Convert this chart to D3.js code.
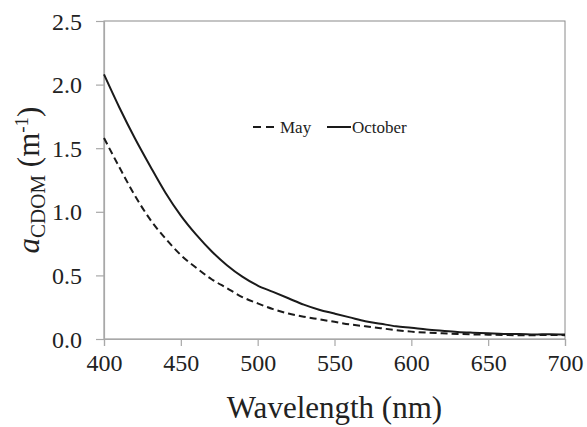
<!DOCTYPE html>
<html>
<head>
<meta charset="utf-8">
<title>aCDOM spectra</title>
<script src="https://d3js.org/d3.v7.min.js"></script>
</head>
<body style="margin:0; background:#fff">
<script>
// wavelengths (nm) and absorption (m^-1)
var wavelength = [400, 410, 420, 430, 440, 450, 460, 470, 480, 490, 500, 510, 520, 530, 540, 550,
                  560, 570, 580, 590, 600, 610, 620, 630, 640, 650, 660, 670, 680, 690, 700];
var may = [1.58, 1.35, 1.13, 0.94, 0.79, 0.66, 0.56, 0.47, 0.40, 0.33, 0.28, 0.235, 0.20, 0.175, 0.155, 0.135,
           0.115, 0.10, 0.085, 0.07, 0.058, 0.05, 0.045, 0.04, 0.036, 0.034, 0.032, 0.03, 0.03, 0.032, 0.03];
var october = [2.08, 1.82, 1.58, 1.36, 1.15, 0.97, 0.82, 0.69, 0.58, 0.49, 0.42, 0.37, 0.32, 0.27, 0.23, 0.20,
               0.17, 0.14, 0.12, 0.10, 0.088, 0.075, 0.065, 0.056, 0.05, 0.045, 0.04, 0.04, 0.035, 0.038, 0.035];
var xTicks = [400, 450, 500, 550, 600, 650, 700];
var yTicks = [0, 0.5, 1.0, 1.5, 2.0, 2.5];

var FONT = '"Liberation Serif", "Times New Roman", serif';
var W = 587, H = 427;
var m = {left: 104, right: 22, top: 21, bottom: 88};

var svg = d3.select('body').append('svg')
    .attr('width', W)
    .attr('height', H)
    .style('font-family', FONT);

var x = d3.scaleLinear().domain([400, 700]).range([m.left, W - m.right]);
var y = d3.scaleLinear().domain([0, 2.5]).range([H - m.bottom, m.top]);

// frame
svg.append('rect')
    .attr('x', x(400)).attr('y', y(2.5))
    .attr('width', x(700) - x(400)).attr('height', y(0) - y(2.5))
    .attr('fill', 'none').attr('stroke', '#8a8a8a').attr('stroke-width', 1);

var xAxis = svg.append('g')
    .attr('transform', 'translate(0,' + y(0) + ')')
    .call(d3.axisBottom(x).tickValues(xTicks).tickSize(7).tickPadding(8).tickFormat(d3.format('d')));
var yAxis = svg.append('g')
    .attr('transform', 'translate(' + x(400) + ',0)')
    .call(d3.axisLeft(y).tickValues(yTicks).tickSize(8).tickPadding(14).tickFormat(d3.format('.1f')));

[xAxis, yAxis].forEach(function(g) {
    g.attr('font-family', null).attr('font-size', null);
    g.select('.domain').attr('stroke', '#a8a8a8').attr('stroke-width', 1.2);
    g.selectAll('.tick line').attr('stroke', '#a8a8a8').attr('stroke-width', 1.2);
    g.selectAll('.tick text')
        .attr('fill', '#222')
        .style('font-family', FONT)
        .style('font-size', '24px');
});
yAxis.selectAll('.tick text').attr('dy', '0.34em');
xAxis.selectAll('.tick text').attr('dy', '0.71em');

// curves
var line = d3.line()
    .x(function(d) { return x(d[0]); })
    .y(function(d) { return y(d[1]); })
    .curve(d3.curveMonotoneX);

svg.append('path')
    .datum(d3.zip(wavelength, may))
    .attr('d', line)
    .attr('fill', 'none').attr('stroke', '#1a1a1a')
    .attr('stroke-width', 2).attr('stroke-dasharray', '7,4');

svg.append('path')
    .datum(d3.zip(wavelength, october))
    .attr('d', line)
    .attr('fill', 'none').attr('stroke', '#1a1a1a')
    .attr('stroke-width', 2);

// legend
var lg = svg.append('g');
lg.append('line').attr('x1', 253).attr('x2', 278).attr('y1', 127).attr('y2', 127)
    .attr('stroke', '#1a1a1a').attr('stroke-width', 2).attr('stroke-dasharray', '8,5');
lg.append('text').attr('x', 280).attr('y', 133).attr('fill', '#222')
    .style('font-family', FONT).style('font-size', '17px').text('May');
lg.append('line').attr('x1', 327).attr('x2', 351).attr('y1', 127).attr('y2', 127)
    .attr('stroke', '#1a1a1a').attr('stroke-width', 2);
lg.append('text').attr('x', 352).attr('y', 133).attr('fill', '#222')
    .style('font-family', FONT).style('font-size', '17px').text('October');

// axis titles
svg.append('text')
    .attr('x', (x(400) + x(700)) / 2).attr('y', 418)
    .attr('text-anchor', 'middle').attr('fill', '#222')
    .style('font-family', FONT)
    .style('font-size', '31px')
    .text('Wavelength (nm)');

var yt = svg.append('text')
    .attr('transform', 'translate(39,' + (y(0) + y(2.5)) / 2 + ') rotate(-90)')
    .attr('text-anchor', 'middle').attr('fill', '#222')
    .style('font-family', FONT)
    .style('font-size', '31px');
yt.append('tspan').style('font-style', 'italic').text('a');
yt.append('tspan').attr('dy', 6).style('font-size', '21px').text('CDOM');
yt.append('tspan').attr('dy', -6).text(' (m');
yt.append('tspan').attr('dy', -11).style('font-size', '19px').text('-1');
yt.append('tspan').attr('dy', 11).text(')');
</script>
</body>
</html>
